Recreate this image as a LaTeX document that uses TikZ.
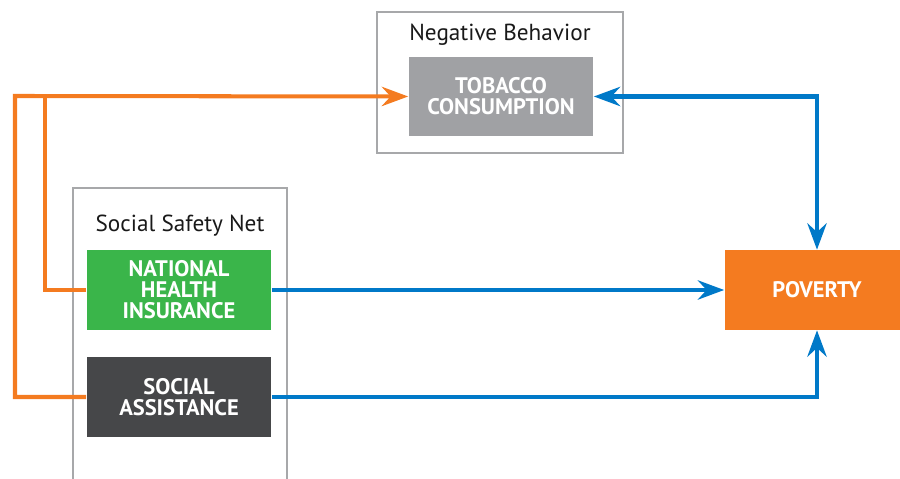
\documentclass[tikz,border=0pt]{standalone}
\usepackage{fontspec}
\setmainfont{PT Sans}
\usepackage{tikz}
\usetikzlibrary{arrows.meta,shapes,positioning,calc}
\definecolor{tobgray}{HTML}{A0A1A4}
\definecolor{framegray}{HTML}{A7A8AA}
\definecolor{nhigreen}{HTML}{3AB54A}
\definecolor{sadark}{HTML}{464749}
\definecolor{povorange}{HTML}{F47B20}
\definecolor{linkblue}{HTML}{0079C8}
\tikzstyle{frame}   = [draw=framegray, line width=1.2pt]
\tikzstyle{box}     = [align=center, text=white, font=\fontsize{12.8}{12}\selectfont\bfseries, minimum width=3.7cm, minimum height=1.6cm, inner sep=0pt]
\tikzstyle{caption} = [font=\fontsize{13.2}{14}\selectfont, text=black!90]
\tikzstyle{bluelink}   = [draw=linkblue, line width=2.3pt, -{Stealth[length=15pt,width=11pt,inset=5pt]}]
\tikzstyle{orangelink} = [draw=povorange, line width=2.3pt, -{Stealth[length=15pt,width=11pt,inset=5pt]}]

\begin{document}
\begin{tikzpicture}[x=0.02cm, y=-0.02cm]
        \clip (0,0) rectangle (900,479);
        % outer frames
        \node[frame, minimum width=4.92cm, minimum height=2.82cm] (negframe) at (500,82.5) {};
        \node[frame, minimum width=4.28cm, minimum height=6.4cm] (netframe) at (180,348) {};
        \node[caption] (neglabel) at (500,35) {Negative Behavior};
        \node[caption] (netlabel) at (180,226) {Social Safety Net};
        % boxes
        \node[box, fill=tobgray] (tob) at (501,96.5) {TOBACCO\\CONSUMPTION};
        \node[box, fill=nhigreen] (nhi) at (179,290) {NATIONAL\\HEALTH\\INSURANCE};
        \node[box, fill=sadark] (sa) at (179,397) {SOCIAL\\ASSISTANCE};
        \node[box, fill=povorange] (pov) at (817,290) {POVERTY};
        \coordinate (outer) at (15,96);
        \coordinate (inner) at (45,96);

        % links to poverty
        \draw[bluelink, {Stealth[length=15pt,width=11pt,inset=5pt]}-{Stealth[length=15pt,width=11pt,inset=5pt]}] (tob.east) -| (pov.north);
        \draw[bluelink] (nhi.east) -- (nhi.east -| pov.west);
        \draw[bluelink] (sa.east) -| (pov.south);

        % links to tobacco
        \draw[orangelink, -] (nhi.west) -| (inner);
        \draw[orangelink] (sa.west) -| (outer) -- (tob.west);
    \end{tikzpicture}
\end{document}
